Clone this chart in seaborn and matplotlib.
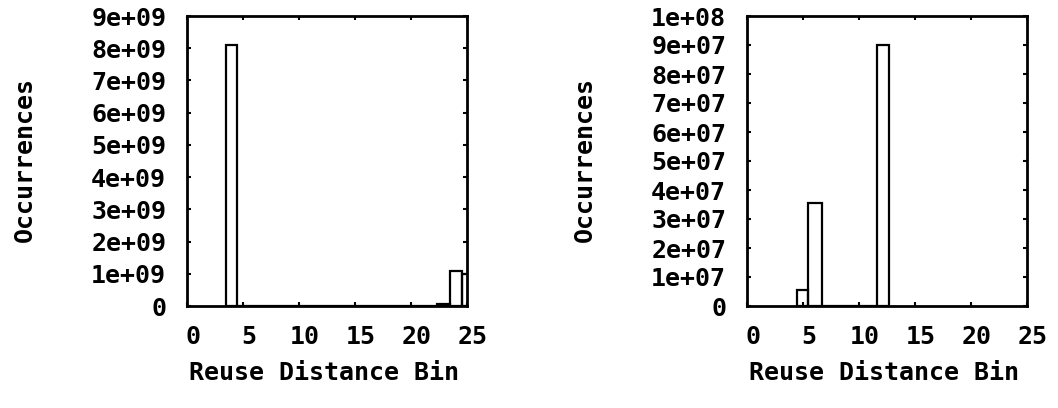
import numpy as np
import pandas as pd
import matplotlib
matplotlib.use("Agg")
import matplotlib.pyplot as plt
import matplotlib.transforms as mtransforms
import seaborn as sns
from matplotlib.ticker import FuncFormatter, MultipleLocator

# ---- data ----
left_edges_a = [3.5, 4.46, 22.3, 23.5, 24.55, 25.6]
left_heights_a = [8.1e9, 0.0, 7e7, 1.08e9, 0.98e9]

right_edges_b = [4.5, 5.45, 6.73, 11.64, 12.65]
right_heights_b = [5.5e6, 3.55e7, 0.0, 9.0e7]

ylim_a = 9e9
ylim_b = 1e8
x_ticks = [0, 5, 10, 15, 20, 25]
xlabel = "Reuse Distance Bin"
ylabel = "Occurrences"

sns.set_style("ticks")
plt.rcParams['font.family'] = ['DejaVu Sans Mono', 'DejaVu Sans']
plt.rcParams['font.weight'] = 'bold'
plt.rcParams['axes.labelcolor'] = 'black'
plt.rcParams['text.color'] = 'black'

FS = 18

fig = plt.figure(figsize=(10.58, 4.08), dpi=100)
ax1 = fig.add_axes([187/1058, 1-306/408, 280/1058, 290/408])
ax2 = fig.add_axes([747/1058, 1-306/408, 280/1058, 290/408])

def draw(ax, edges, heights, ymax, ystep):
    edges = list(edges)
    centers = [(a + b) / 2 for a, b in zip(edges[:-1], edges[1:])]
    df = pd.DataFrame({"bin": centers, "count": heights})
    sns.histplot(data=df, x="bin", weights="count", bins=edges, ax=ax,
                 fill=False, element="bars", color="black", linewidth=1.6,
                 edgecolor="black", legend=False)
    ax.set_xlim(0, 25)
    ax.set_ylim(0, ymax)
    ax.set_xticks(x_ticks)
    ax.yaxis.set_major_locator(MultipleLocator(ystep))
    ax.yaxis.set_major_formatter(FuncFormatter(lambda v, p: "%g" % v))
    ax.tick_params(direction="in", length=3, width=1.5, top=True, right=True,
                   labelsize=FS, colors="black")
    ax.tick_params(axis="y", pad=15)
    ax.tick_params(axis="x", pad=14)
    for s in ax.spines.values():
        s.set_visible(True)
        s.set_linewidth(2)
        s.set_color("black")
    ax.set_xlabel(xlabel, fontsize=FS, fontweight="bold", color="black")
    ax.set_ylabel(ylabel, fontsize=FS, fontweight="bold", color="black")
    ax.xaxis.set_label_coords(0.49, -0.19)
    ax.yaxis.set_label_coords(-0.536, 0.505)
    ax.set_facecolor("white")

draw(ax1, left_edges_a, left_heights_a, ylim_a, 1e9)
draw(ax2, right_edges_b, right_heights_b, ylim_b, 1e7)

# gnuplot-style slight offset of the x tick labels to the right
for ax in (ax1, ax2):
    shift = mtransforms.ScaledTranslation(6 / 100, 0, fig.dpi_scale_trans)
    for t in ax.xaxis.get_major_ticks():
        t.label1.set_fontweight("bold")
        t.label1.set_transform(t.label1.get_transform() + shift)
    for t in ax.yaxis.get_major_ticks():
        t.label1.set_fontweight("bold")

fig.savefig("out.png", dpi=100, facecolor="white")
